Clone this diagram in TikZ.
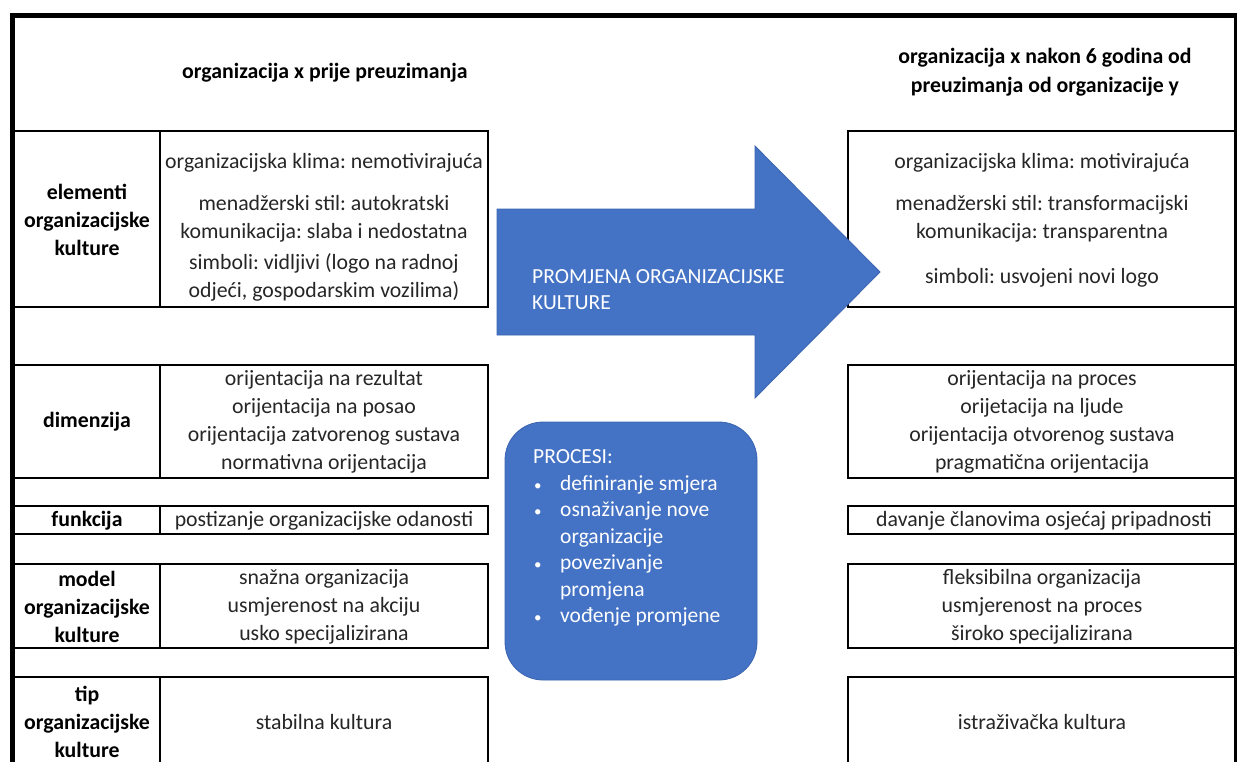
\documentclass[tikz,border=0pt]{standalone}
\usepackage{fontspec}
\setmainfont{Carlito}
\frenchspacing
\definecolor{office}{HTML}{4472C4}
\definecolor{officeedge}{HTML}{3A64B0}
\begin{document}
\begin{tikzpicture}[x=1pt,y=-1pt,
  txt/.style={font=\fontsize{21.8}{28}\selectfont, align=center, inner sep=0pt, text=black!85},
  lbl/.style={font=\fontsize{21.8}{28}\selectfont\bfseries, align=center, inner sep=0pt, text=black},
  cell/.style={draw=black, line width=2.4pt},
  bluefill/.style={fill=office, draw=officeedge, line width=0.8pt},
  wtxt/.style={text=white, inner sep=0pt, align=left}]
\useasboundingbox (0,0) rectangle (1241,761);
\clip (0,0) rectangle (1241,761);
\fill[white] (0,0) rectangle (1241,761);

% left table cells
\draw[cell] (14,131) rectangle (488,307); \draw[cell] (160,131) -- (160,307);
\draw[cell] (14,365) rectangle (488,478); \draw[cell] (160,365) -- (160,478);
\draw[cell] (14,506) rectangle (488,534); \draw[cell] (160,506) -- (160,534);
\draw[cell] (14,564) rectangle (488,648); \draw[cell] (160,564) -- (160,648);
\draw[cell] (14,677) rectangle (488,790); \draw[cell] (160,677) -- (160,790);

% right table cells
\draw[cell] (848,131) rectangle (1235,307);
\draw[cell] (848,365) rectangle (1235,478);
\draw[cell] (848,506) rectangle (1235,534);
\draw[cell] (848,564) rectangle (1235,648);
\draw[cell] (848,677) rectangle (1235,790);

% outer frame
\draw[line width=5pt, line join=miter] (12,790) -- (12,15) -- (1237,15);
\draw[line width=3pt] (1235,13) -- (1235,790);

% headers
\node[lbl] (hl) at (325,73) {organizacija x prije preuzimanja};
\node[lbl, font=\fontsize{21.8}{29}\selectfont\bfseries] (hr) at (1045,72) {organizacija x nakon 6 godina od\\preuzimanja od organizacije y};

% labels
\node[lbl] (l1) at (87,220) {elementi\\organizacijske\\kulture};
\node[lbl] (l2) at (87,422) {dimenzija};
\node[lbl] (l3) at (87,521) {funkcija};
\node[lbl] (l4) at (87,607) {model\\organizacijske\\kulture};
\node[lbl] (l5) at (87,722) {tip\\organizacijske\\kulture};

% left contents
\node[txt] (c1) at (324,227) {organizacijska klima: nemotivirajuća\\[14pt]menadžerski stil: autokratski\\komunikacija: slaba i nedostatna\\[3pt]simboli: vidljivi (logo na radnoj\\odjeći, gospodarskim vozilima)};
\node[txt] (c2) at (324,422) {orijentacija na rezultat\\orijentacija na posao\\orijentacija zatvorenog sustava\\normativna orijentacija};
\node[txt] (c3) at (324,521) {postizanje organizacijske odanosti};
\node[txt] (c4) at (324,607) {snažna organizacija\\usmjerenost na akciju\\usko specijalizirana};
\node[txt] (c5) at (324,722) {stabilna kultura};

% right contents
\node[txt] (r1) at (1042,220) {organizacijska klima: motivirajuća\\[14pt]menadžerski stil: transformacijski\\komunikacija: transparentna\\[17pt]simboli: usvojeni novi logo};
\node[txt] (r2) at (1042,422) {orijentacija na proces\\orijetacija na ljude\\orijentacija otvorenog sustava\\pragmatična orijentacija};
\node[txt] (r3) at (1044,521) {davanje članovima osjećaj pripadnosti};
\node[txt] (r4) at (1042,607) {fleksibilna organizacija\\usmjerenost na proces\\široko specijalizirana};
\node[txt] (r5) at (1042,722) {istraživačka kultura};

% big arrow
\path[bluefill] (497,209) -- (755,209) -- (755,146) -- (880,272) -- (755,398) -- (755,335) -- (497,335) -- cycle;
\node[wtxt, anchor=west, font=\fontsize{21.5}{26}\selectfont] (arrowtxt) at (532,290) {PROMJENA ORGANIZACIJSKE\\KULTURE};

% process box
\path[bluefill, rounded corners=38pt] (505,422) rectangle (757,680);
\node[wtxt, anchor=west, font=\fontsize{21.5}{26.5}\selectfont] (proc) at (533,538)
 {PROCESI:\\
  \makebox[27pt][l]{\hspace{1pt}{\fontsize{15}{15}\selectfont•}}definiranje smjera\\
  \makebox[27pt][l]{\hspace{1pt}{\fontsize{15}{15}\selectfont•}}osnaživanje nove\\
  \hspace*{27pt}organizacije\\
  \makebox[27pt][l]{\hspace{1pt}{\fontsize{15}{15}\selectfont•}}povezivanje\\
  \hspace*{27pt}promjena\\
  \makebox[27pt][l]{\hspace{1pt}{\fontsize{15}{15}\selectfont•}}vođenje promjene};
\end{tikzpicture}
\end{document}
